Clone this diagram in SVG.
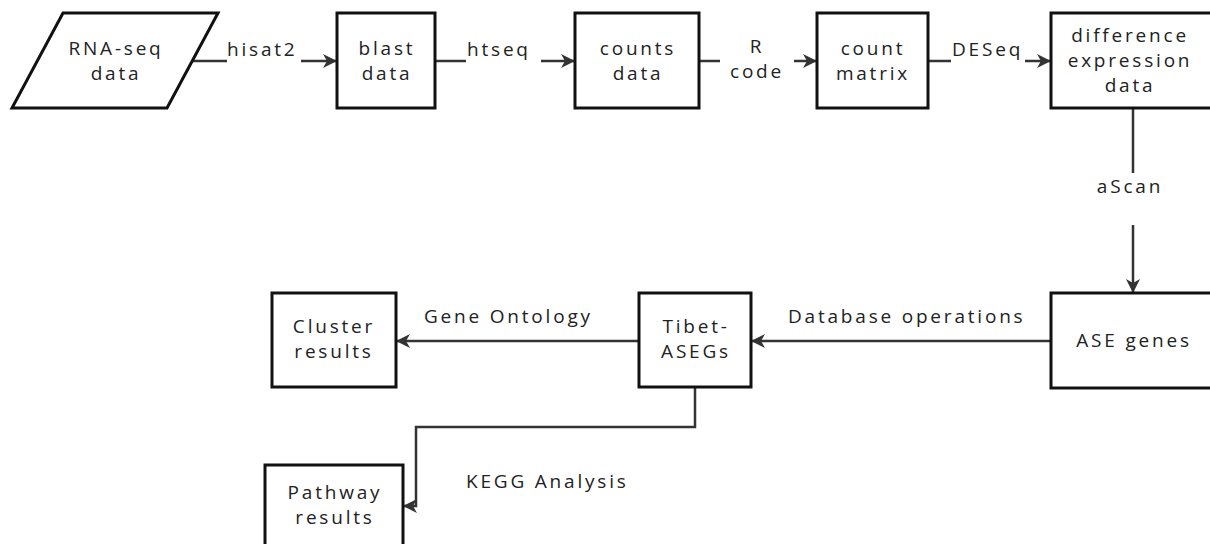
<svg xmlns="http://www.w3.org/2000/svg" width="1210" height="544" viewBox="0 0 1210 544">
<defs>
<marker id="ah" viewBox="0 0 14 14" refX="13" refY="7" markerWidth="14" markerHeight="14" markerUnits="userSpaceOnUse" orient="auto">
<path d="M0,0 L14,7 L0,14 L4,7 Z" fill="#333"/>
</marker>
<style>
.box{fill:#fff;stroke:#111;stroke-width:3}
.t{font-family:"Open Sans","Noto Sans",sans-serif;font-size:19px;letter-spacing:2.8px;fill:#222;text-anchor:middle}
.l{font-family:"Open Sans","Noto Sans",sans-serif;font-size:19px;letter-spacing:2.8px;fill:#222}
.c{fill:none;stroke:#333;stroke-width:2.5}
</style>
</defs>
<rect width="1210" height="544" fill="#fff"/>
<g id="connectors">
<line class="c" x1="193" y1="61" x2="227" y2="61"/>
<line class="c" x1="301" y1="61" x2="336" y2="61" marker-end="url(#ah)"/>
<line class="c" x1="435" y1="61" x2="466" y2="61"/>
<line class="c" x1="541" y1="61" x2="574" y2="61" marker-end="url(#ah)"/>
<line class="c" x1="699" y1="61" x2="720" y2="61"/>
<line class="c" x1="794" y1="61" x2="816" y2="61" marker-end="url(#ah)"/>
<line class="c" x1="928" y1="61" x2="951" y2="61"/>
<line class="c" x1="1025" y1="61" x2="1050" y2="61" marker-end="url(#ah)"/>
<line class="c" x1="1133" y1="108" x2="1133" y2="173"/>
<line class="c" x1="1133" y1="225" x2="1133" y2="292" marker-end="url(#ah)"/>
<line class="c" x1="1051" y1="341" x2="752" y2="341" marker-end="url(#ah)"/>
<line class="c" x1="639" y1="341" x2="397" y2="341" marker-end="url(#ah)"/>
<path class="c" d="M695,387 V427 H416 V506 H404" marker-end="url(#ah)"/>
<text class="l" x="227" y="56">hisat2</text>
<text class="l" x="467" y="56">htseq</text>
<text class="t" x="757" y="53">R</text>
<text class="t" x="757" y="78">code</text>
<text class="l" x="952" y="56">DESeq</text>
<text class="t" x="1130" y="193">aScan</text>
<text class="l" x="788" y="323">Database operations</text>
<text class="l" x="424" y="323">Gene Ontology</text>
<text class="l" x="466" y="488">KEGG Analysis</text>
</g>
<g id="rnaseq">
<polygon class="box" points="63,13 218,13 167,108 12,108"/>
<text class="t" x="116" y="55">RNA-seq</text>
<text class="t" x="116" y="80">data</text>
</g>
<g id="blast">
<rect class="box" x="337" y="13" width="98" height="95"/>
<text class="t" x="387" y="55">blast</text>
<text class="t" x="387" y="80">data</text>
</g>
<g id="counts">
<rect class="box" x="575" y="13" width="124" height="95"/>
<text class="t" x="638" y="55">counts</text>
<text class="t" x="638" y="80">data</text>
</g>
<g id="matrix">
<rect class="box" x="817" y="13" width="111" height="95"/>
<text class="t" x="873" y="55">count</text>
<text class="t" x="873" y="80">matrix</text>
</g>
<g id="diff">
<rect class="box" x="1051" y="13" width="170" height="95"/>
<text class="t" x="1130" y="42">difference</text>
<text class="t" x="1130" y="67">expression</text>
<text class="t" x="1130" y="92">data</text>
</g>
<g id="ase">
<rect class="box" x="1051" y="293" width="170" height="95"/>
<text class="t" x="1134" y="347">ASE genes</text>
</g>
<g id="tibet">
<rect class="box" x="639" y="293" width="112" height="94"/>
<text class="t" x="696" y="333">Tibet-</text>
<text class="t" x="696" y="358">ASEGs</text>
</g>
<g id="cluster">
<rect class="box" x="272" y="293" width="124" height="94"/>
<text class="t" x="334" y="333">Cluster</text>
<text class="t" x="334" y="358">results</text>
</g>
<g id="pathway">
<rect class="box" x="265" y="465" width="138" height="100"/>
<text class="t" x="335" y="499">Pathway</text>
<text class="t" x="335" y="524">results</text>
</g>
</svg>
